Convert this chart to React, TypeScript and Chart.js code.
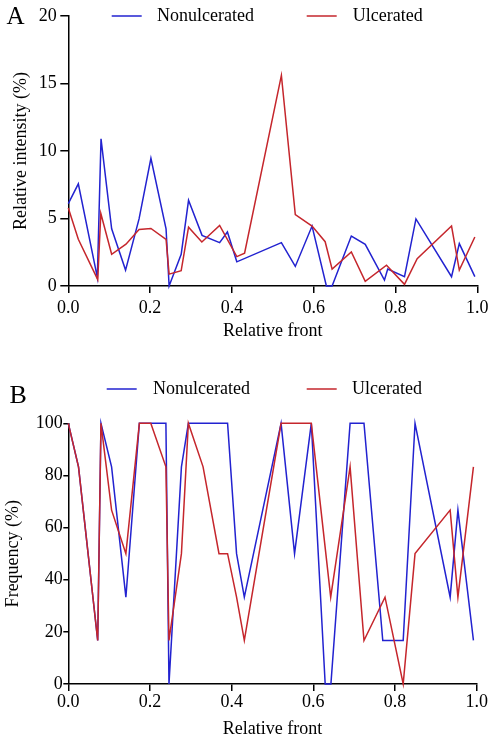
import { useEffect, useRef } from "react";
import { Chart, registerables } from "chart.js";

Chart.register(...registerables);

// ---------- data ----------
const seriesLabels = ["Nonulcerated", "Ulcerated"];
const xTicks = [0, 0.2, 0.4, 0.6, 0.8, 1.0];
const yTicksA = [0, 5, 10, 15, 20];
const yTicksB = [0, 20, 40, 60, 80, 100];

// Panel A: relative intensity (%)
const frontANon = [0, 0.0245, 0.071, 0.08, 0.106, 0.14, 0.173, 0.202, 0.239, 0.2465, 0.276, 0.294, 0.327, 0.37, 0.389, 0.412, 0.521, 0.555, 0.596, 0.631, 0.645, 0.692, 0.726, 0.773, 0.781, 0.822, 0.85, 0.937, 0.956, 0.994];
const intensityNon = [6.1, 7.57, 0.64, 10.9, 4.24, 1.18, 4.97, 9.46, 4.24, 0, 2.35, 6.35, 3.75, 3.21, 4.0, 1.79, 3.21, 1.45, 4.44, 0, 0, 3.7, 3.09, 0.44, 1.25, 0.69, 4.97, 0.69, 3.14, 0.69];
const frontAUlc = [0, 0.0245, 0.072, 0.0795, 0.106, 0.141, 0.173, 0.202, 0.239, 0.2465, 0.276, 0.294, 0.3265, 0.37, 0.412, 0.431, 0.521, 0.555, 0.596, 0.628, 0.645, 0.692, 0.726, 0.778, 0.822, 0.853, 0.937, 0.956, 0.994];
const intensityUlc = [5.78, 3.46, 0.47, 5.37, 2.35, 3.1, 4.19, 4.26, 3.46, 0.88, 1.13, 4.36, 3.26, 4.49, 2.18, 2.43, 15.6, 5.29, 4.44, 3.28, 1.25, 2.52, 0.34, 1.54, 0.12, 2.03, 4.44, 1.18, 3.63];

// Panel B: frequency (%)
const frontBNon = [0, 0.025, 0.072, 0.08, 0.106, 0.141, 0.174, 0.202, 0.239, 0.2465, 0.277, 0.294, 0.327, 0.37, 0.39, 0.412, 0.431, 0.521, 0.554, 0.595, 0.629, 0.643, 0.69, 0.724, 0.77, 0.82, 0.849, 0.935, 0.954, 0.992];
const frequencyNon = [100, 83.3, 16.7, 100, 83.3, 33.3, 100, 100, 100, 0, 83.3, 100, 100, 100, 100, 50, 33.3, 100, 50, 100, 0, 0, 100, 100, 16.7, 16.7, 100, 33.3, 66.7, 16.7];
const frontBUlc = [0, 0.025, 0.072, 0.08, 0.106, 0.141, 0.174, 0.202, 0.239, 0.2465, 0.277, 0.294, 0.33, 0.369, 0.39, 0.412, 0.431, 0.521, 0.555, 0.595, 0.6425, 0.69, 0.724, 0.7755, 0.82, 0.849, 0.935, 0.954, 0.992];
const frequencyUlc = [100, 83.3, 16.7, 100, 66.7, 50, 100, 100, 83.3, 16.7, 50, 100, 83.3, 50, 50, 33.3, 16.7, 100, 100, 100, 33.3, 83.3, 16.7, 33.3, 0, 50, 66.7, 33.3, 83.3];

// ---------- styles ----------
const FONT = '"Liberation Serif", "Times New Roman", serif';
const BLUE = "#2222d0";
const RED = "#c5262c";
const W = 498;
const H = 373;

const toPoints = (xs: number[], ys: number[]) => xs.map((x, i) => ({ x, y: ys[i] }));

const legendPlugin = {
  id: "panelLegend",
  afterDraw(chart: any, _args: any, opts: any) {
    const ctx = chart.ctx;
    ctx.save();
    ctx.font = `18px ${FONT}`;
    ctx.textBaseline = "middle";
    ctx.textAlign = "left";
    chart.data.datasets.forEach((ds: any, i: number) => {
      const it = opts.items[i];
      ctx.strokeStyle = ds.borderColor;
      ctx.lineWidth = 1.5;
      ctx.beginPath();
      ctx.moveTo(it.x0, opts.y);
      ctx.lineTo(it.x1, opts.y);
      ctx.stroke();
      ctx.fillStyle = "#000";
      ctx.fillText(ds.label, it.tx, opts.y);
    });
    ctx.font = `${opts.letterSize}px ${FONT}`;
    ctx.textBaseline = "alphabetic";
    ctx.fillStyle = "#000";
    ctx.fillText(opts.letter, opts.letterX, opts.letterY);
    ctx.restore();
  },
};

function makeConfig(p: any) {
  return {
    type: "line",
    data: {
      datasets: [
        {
          label: seriesLabels[0],
          data: p.non,
          borderColor: BLUE,
          backgroundColor: BLUE,
          borderWidth: 1.5,
          pointRadius: 0,
          tension: 0,
          clip: false,
          order: 1,
        },
        {
          label: seriesLabels[1],
          data: p.ulc,
          borderColor: RED,
          backgroundColor: RED,
          borderWidth: 1.5,
          pointRadius: 0,
          tension: 0,
          clip: false,
          order: 0,
        },
      ],
    },
    options: {
      responsive: false,
      animation: false,
      devicePixelRatio: 1,
      layout: { padding: p.padding },
      plugins: {
        legend: { display: false },
        tooltip: { enabled: false },
        panelLegend: p.legend,
      },
      scales: {
        x: {
          type: "linear",
          min: 0,
          max: 1,
          afterBuildTicks: (s: any) => {
            s.ticks = xTicks.map((v) => ({ value: v }));
          },
          afterFit: (s: any) => {
            s.height = p.xHeight;
          },
          ticks: {
            color: "#000",
            font: { family: FONT, size: 18 },
            padding: p.xTickPad,
            maxRotation: 0,
            callback: (v: any) => Number(v).toFixed(1),
          },
          grid: {
            display: true,
            drawOnChartArea: false,
            drawTicks: true,
            tickLength: 7,
            color: "#000",
            lineWidth: 1.5,
          },
          border: { display: true, color: "#000", width: 1.5 },
          title: {
            display: true,
            text: "Relative front",
            color: "#000",
            font: { family: FONT, size: 18 },
            padding: { top: 0, bottom: 0 },
          },
        },
        y: {
          type: "linear",
          min: p.yTicks[0],
          max: p.yTicks[p.yTicks.length - 1],
          afterBuildTicks: (s: any) => {
            s.ticks = p.yTicks.map((v: number) => ({ value: v }));
          },
          afterFit: (s: any) => {
            s.width = 68.3;
          },
          ticks: {
            color: "#000",
            font: { family: FONT, size: 18 },
            padding: p.yTickPad,
          },
          grid: {
            display: true,
            drawOnChartArea: false,
            drawTicks: true,
            tickLength: p.yTickLen,
            color: "#000",
            lineWidth: 1.5,
          },
          border: { display: true, color: "#000", width: 1.5 },
          title: {
            display: true,
            text: p.yTitle,
            color: "#000",
            font: { family: FONT, size: 18 },
            padding: { top: p.yTitlePad, bottom: 0 },
          },
        },
      },
    },
    plugins: [legendPlugin],
  };
}

export default function App() {
  const refA = useRef<HTMLCanvasElement>(null);
  const refB = useRef<HTMLCanvasElement>(null);

  useEffect(() => {
    const a = new Chart(
      refA.current as HTMLCanvasElement,
      makeConfig({
        non: toPoints(frontANon, intensityNon),
        ulc: toPoints(frontAUlc, intensityUlc),
        yTicks: yTicksA,
        yTitle: "Relative intensity (%)",
        padding: { top: 16, right: 20.7, bottom: 31.2, left: 0 },
        xHeight: 55.8,
        xTickPad: 4,
        yTickPad: 3.5,
        yTickLen: 8,
        yTitlePad: 10,
        legend: {
          y: 16,
          items: [
            { x0: 111.7, x1: 141.7, tx: 157 },
            { x0: 306.7, x1: 336.7, tx: 352.7 },
          ],
          letter: "A",
          letterSize: 25,
          letterX: 6.5,
          letterY: 23.5,
        },
      }) as any
    );
    const b = new Chart(
      refB.current as HTMLCanvasElement,
      makeConfig({
        non: toPoints(frontBNon, frequencyNon),
        ulc: toPoints(frontBUlc, frequencyUlc),
        yTicks: yTicksB,
        yTitle: "Frequency (%)",
        padding: { top: 50.3, right: 21.3, bottom: 6.4, left: 0 },
        xHeight: 55.6,
        xTickPad: 0,
        yTickPad: 0.5,
        yTickLen: 5,
        yTitlePad: 2,
        legend: {
          y: 16,
          items: [
            { x0: 106.7, x1: 136.7, tx: 153 },
            { x0: 306.7, x1: 336.7, tx: 352 },
          ],
          letter: "B",
          letterSize: 26,
          letterX: 9.5,
          letterY: 30,
        },
      }) as any
    );
    return () => {
      a.destroy();
      b.destroy();
    };
  }, []);

  return (
    <div style={{ position: "absolute", left: 0, top: 0, width: W, height: 2 * H, background: "#fff" }}>
      <canvas ref={refA} width={W} height={H} style={{ display: "block", width: W, height: H }} />
      <canvas ref={refB} width={W} height={H} style={{ display: "block", width: W, height: H }} />
    </div>
  );
}
